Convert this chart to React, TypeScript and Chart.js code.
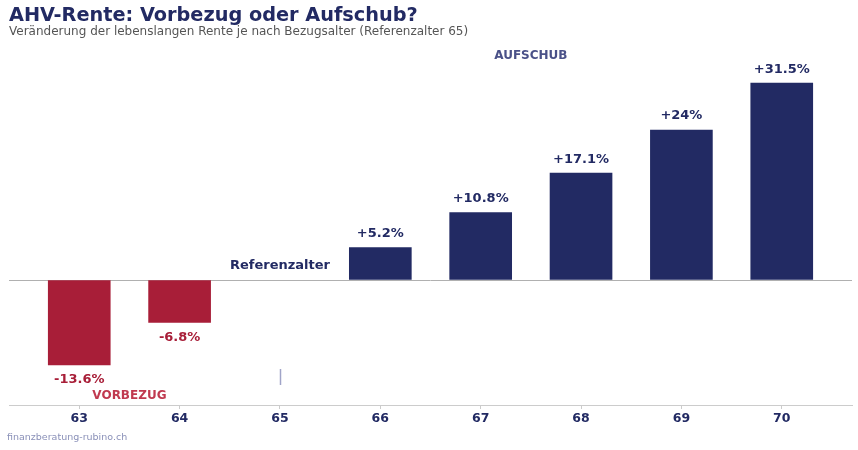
import { useEffect, useRef } from 'react';
import Chart from 'chart.js/auto';
import React from 'react';

const ages = [63, 64, 65, 66, 67, 68, 69, 70];
const changes = [-13.6, -6.8, 0, 5.2, 10.8, 17.1, 24, 31.5];

const NAVY = '#222a63';
const RED = '#a81e38';
const FONT = '"DejaVu Sans", sans-serif';

const fmt = (v: number) => (v > 0 ? '+' : '') + v + '%';

const textPlugin = {
  id: 'texts',
  afterDraw(chart: any) {
    const ctx = chart.ctx;
    const x = chart.scales.x;
    const y = chart.scales.y;
    ctx.save();
    ctx.textBaseline = 'middle';

    // title + subtitle
    ctx.textAlign = 'left';
    ctx.fillStyle = NAVY;
    ctx.font = `bold 19.3px ${FONT}`;
    ctx.fillText('AHV-Rente: Vorbezug oder Aufschub?', 9, 16);
    ctx.fillStyle = '#555555';
    ctx.font = `12px ${FONT}`;
    ctx.fillText('Veränderung der lebenslangen Rente je nach Bezugsalter (Referenzalter 65)', 9, 32);

    // value labels
    ctx.textAlign = 'center';
    ctx.font = `bold 13px ${FONT}`;
    ages.forEach((a, i) => {
      const v = changes[i];
      if (v === 0) return;
      const px = x.getPixelForValue(a);
      const py = y.getPixelForValue(v);
      ctx.fillStyle = v > 0 ? NAVY : RED;
      ctx.fillText(fmt(v), px, v > 0 ? py - 14 : py + 15);
    });

    // annotations
    ctx.fillStyle = NAVY;
    ctx.font = `bold 13px ${FONT}`;
    ctx.fillText('Referenzalter', x.getPixelForValue(65), 266);
    ctx.fillStyle = '#c0394f';
    ctx.font = `bold 12px ${FONT}`;
    ctx.fillText('VORBEZUG', x.getPixelForValue(63.5), 396);
    ctx.fillStyle = '#4a5188';
    ctx.fillText('AUFSCHUB', x.getPixelForValue(67.5), 56);

    // small marker at reference age
    ctx.strokeStyle = '#a0a4c8';
    ctx.lineWidth = 1.5;
    ctx.beginPath();
    const mx = Math.round(x.getPixelForValue(65)) + 0.5;
    ctx.moveTo(mx, 369);
    ctx.lineTo(mx, 385);
    ctx.stroke();

    // source
    ctx.textAlign = 'left';
    ctx.fillStyle = '#8a90b8';
    ctx.font = `9.5px ${FONT}`;
    ctx.fillText('finanzberatung-rubino.ch', 7, 438);
    ctx.restore();
  },
};

const App: React.FC = () => {
  const canvasRef = useRef<HTMLCanvasElement>(null);

  useEffect(() => {
    document.body.style.margin = '0';
    if (!canvasRef.current) return;
    const chart = new Chart(canvasRef.current, {
      type: 'bar',
      data: {
        datasets: [{
          data: ages.map((a, i) => ({ x: a, y: changes[i] })),
          backgroundColor: changes.map(v => (v < 0 ? RED : v > 0 ? NAVY : 'rgba(0,0,0,0)')),
          borderWidth: 0,
          barThickness: 62,
        }]
      },
      options: {
        animation: false,
        responsive: false,
        layout: { padding: { left: 9, right: 6, top: 40, bottom: 0 } },
        plugins: { legend: { display: false }, tooltip: { enabled: false }, title: { display: false } },
        scales: {
          x: {
            type: 'linear',
            offset: false,
            min: 62.3,
            max: 70.7,
            afterBuildTicks: (s: any) => { s.ticks = ages.map(v => ({ value: v })); },
            afterFit: (s: any) => { s.height = 45; },
            border: { color: '#cccccc' },
            grid: { offset: false, drawOnChartArea: false, tickLength: 4, color: '#cccccc' },
            ticks: { color: NAVY, font: { family: FONT, weight: 'bold', size: 12.5 }, padding: 2 },
          },
          y: {
            display: true,
            min: -20,
            max: 38.4,
            afterFit: (s: any) => { s.width = 0; },
            border: { display: false },
            ticks: { display: false },
            grid: {
              drawTicks: false,
              color: (c: any) => (c.tick && c.tick.value === 0 ? '#b0b0b0' : 'rgba(0,0,0,0)'),
            },
          },
        },
      },
      plugins: [textPlugin],
    } as any);
    return () => chart.destroy();
  }, []);

  return <canvas ref={canvasRef} width={858} height={450} style={{ display: 'block' }}></canvas>;
};

export default App;
